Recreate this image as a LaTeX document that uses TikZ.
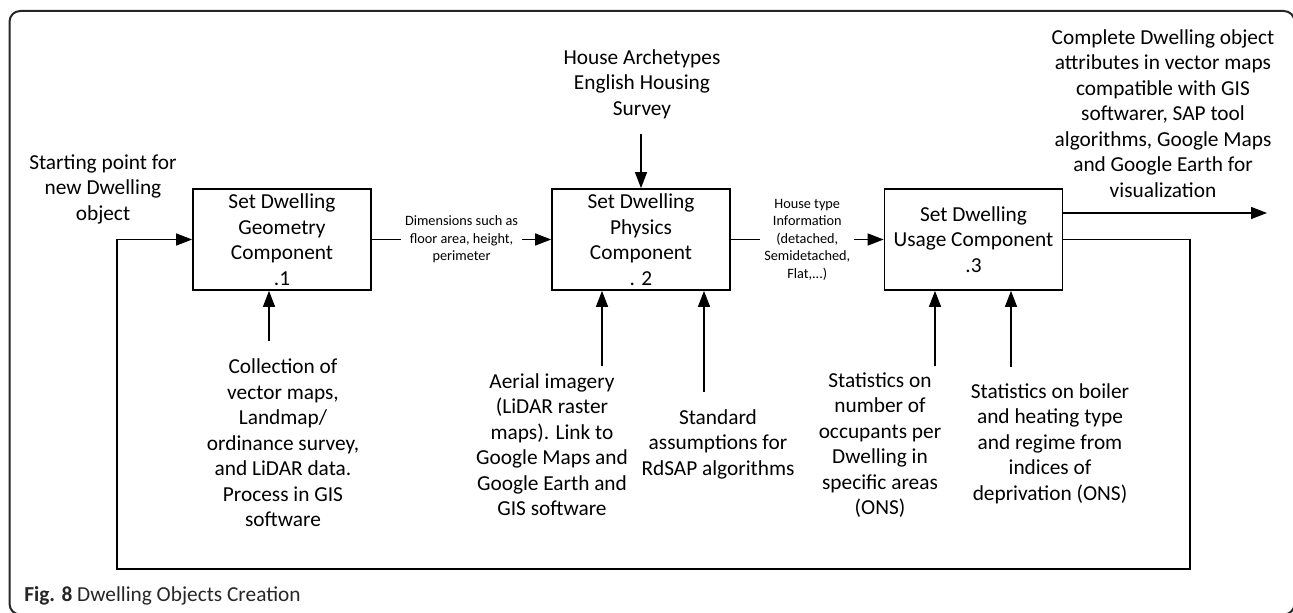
\documentclass[tikz,border=0pt]{standalone}
\usepackage{fontspec}
\setmainfont{Carlito}
\usetikzlibrary{arrows.meta}
\begin{document}
\begin{tikzpicture}[x=0.75pt,y=-0.75pt,
  box/.style={draw,line width=1.3pt,minimum width=133.5pt,minimum height=75.75pt,inner sep=0pt,align=center,font=\fontsize{16}{19.1}\selectfont},
  txt/.style={align=center,inner sep=0pt,font=\fontsize{16}{19.1}\selectfont},
  lbl/.style={align=center,inner sep=3pt,fill=white,font=\fontsize{10.7}{13.1}\selectfont},
  arr/.style={line width=1pt,-{Triangle[length=12pt,width=9pt]}},
  frame/.style={draw,line width=1.5pt,rounded corners=8pt,draw=black!85}
]
\clip (0,0) rectangle (1293,613);
\draw[frame] (9.5,11) rectangle (1294.5,614.5);

% main boxes
\node[box] (b1) at (282,239.5) {Set Dwelling\\Geometry\\Component\\.1};
\node[box] (b2) at (641,239.5) {Set Dwelling\\Physics\\Component\\. 2};
\node[box] (b3) at (973.5,239.5) {Set Dwelling\\Usage Component\\.3};

% flows between boxes
\draw[arr] (b1) -- (b2) node[lbl,midway] {Dimensions such as\\floor area, height,\\perimeter};
\draw[arr] (b2) -- (b3) node[lbl,midway] {House type\\Information\\(detached,\\Semidetached,\\Flat,...)};

% start text and feedback loop
\node[txt] (start) at (103,189) {Starting point for\\new Dwelling\\object};
\coordinate (fbr) at (1190,569);
\coordinate (fbl) at (117,569);
\draw[arr] (b3.east) -| (fbr) -- (fbl) |- (b1.west);

% output
\node[txt] (outtxt) at (1163,113.5) {Complete Dwelling object\\attributes in vector maps\\compatible with GIS\\softwarer, SAP tool\\algorithms, Google Maps\\and Google Earth for\\visualization};
\coordinate (out) at (1267,213);
\draw[arr] (b3.east |- out) -- (out);

% control from top
\node[txt] (arch) at (642,84) {House Archetypes\\English Housing\\Survey};
\coordinate (archt) at (641,134);
\draw[arr] (archt) -- (b2);

% mechanisms from below
\node[txt] (coll) at (283,443) {Collection of\\vector maps,\\Landmap/\\ordinance survey,\\and LiDAR data.\\Process in GIS\\software};
\coordinate (collt) at (269,341);
\draw[arr] (collt) -- (collt |- b1.south);

\node[txt] (aer) at (552,444.5) {Aerial imagery\\(LiDAR raster\\maps). Link to\\Google Maps and\\Google Earth and\\GIS software};
\coordinate (aert) at (602,366);
\draw[arr] (aert) -- (aert |- b2.south);

\node[txt] (std) at (718,444) {Standard\\assumptions for\\RdSAP algorithms};
\coordinate (stdt) at (704,392);
\draw[arr] (stdt) -- (stdt |- b2.south);

\node[txt] (occ) at (880,445) {Statistics on\\number of\\occupants per\\Dwelling in\\specific areas\\(ONS)};
\coordinate (occt) at (935,366);
\draw[arr] (occt) -- (occt |- b3.south);

\node[txt] (boil) at (1050,443.5) {Statistics on boiler\\and heating type\\and regime from\\indices of\\deprivation (ONS)};
\coordinate (boilt) at (1011,367);
\draw[arr] (boilt) -- (boilt |- b3.south);

% caption
\node[anchor=west,inner sep=0pt,font=\fontsize{16}{18}\selectfont,text=black!85] (cap) at (24,596) {\textbf{Fig. 8} Dwelling Objects Creation};
\end{tikzpicture}
\end{document}
